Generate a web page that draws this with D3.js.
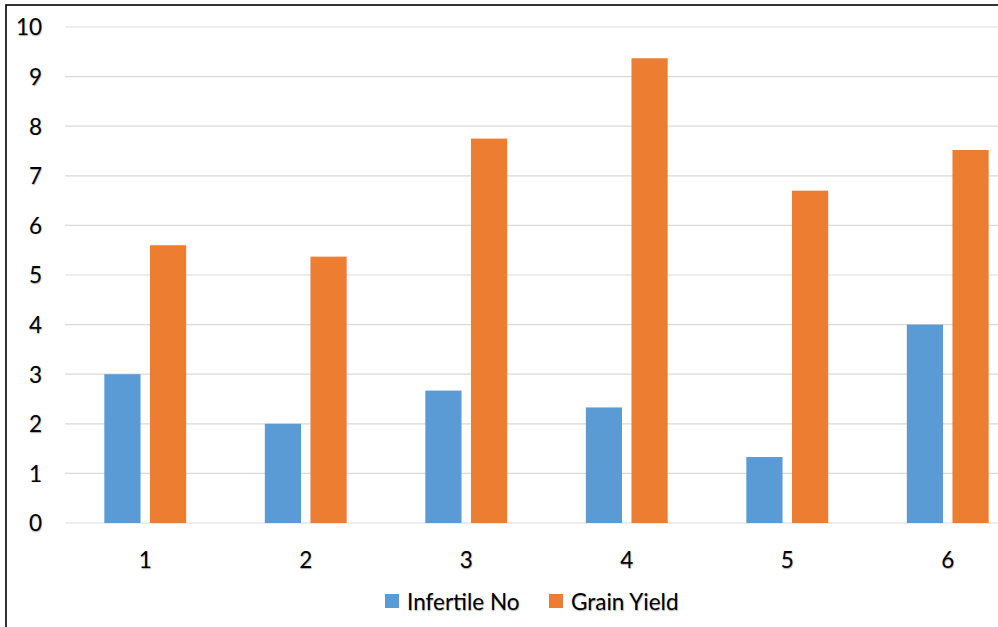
<!DOCTYPE html>
<html>
<head>
<meta charset="utf-8">
<script src="https://cdn.jsdelivr.net/npm/d3@7"></script>
<style>
  html, body { margin: 0; padding: 0; background: #fff; }
  svg { display: block; }
  text {
    font-family: Lato, "Open Sans", "Liberation Sans", sans-serif;
    fill: #000;
    text-shadow: 0.6px 0.6px 1.2px rgba(0, 0, 0, 0.35);
  }
</style>
</head>
<body>
<svg id="chart" width="998" height="627"></svg>
<script>
// Chart data
const categories = ["1", "2", "3", "4", "5", "6"];
const seriesNames = ["Infertile No", "Grain Yield"];
const infertileNo = [3, 2, 2.67, 2.33, 1.33, 4];
const grainYield = [5.6, 5.37, 7.75, 9.37, 6.7, 7.52];
const yTicks = [0, 1, 2, 3, 4, 5, 6, 7, 8, 9, 10];
const colors = ["#5B9BD5", "#ED7D31"];

const rows = categories.map((c, i) => ({ cat: c, values: [infertileNo[i], grainYield[i]] }));

const svg = d3.select("#chart");
const W = 998, H = 627;
const fontSize = "22.5px";

// Outer frame (runs past the right and bottom edges)
svg.append("rect")
  .attr("x", 6).attr("y", 5)
  .attr("width", W + 20).attr("height", H + 20)
  .attr("fill", "#fff").attr("stroke", "#000").attr("stroke-width", 1.6);

const plot = { left: 65, right: 1028, top: 27, bottom: 523 };

const x0 = d3.scaleBand()
  .domain(categories)
  .range([plot.left, plot.right])
  .paddingInner(0.49)
  .paddingOuter(0.245);

const x1 = d3.scaleBand()
  .domain(d3.range(seriesNames.length))
  .range([0, x0.bandwidth()])
  .paddingInner(0.207);

const y = d3.scaleLinear().domain([0, 10]).range([plot.bottom, plot.top]);

// Horizontal gridlines
svg.append("g")
  .selectAll("line")
  .data(yTicks)
  .join("line")
  .attr("x1", plot.left).attr("x2", W)
  .attr("y1", d => y(d)).attr("y2", d => y(d))
  .attr("stroke", "#d9d9d9").attr("stroke-width", 1.2);

// Y axis labels
const yAxis = d3.axisLeft(y).tickValues(yTicks).tickSize(0).tickPadding(0);
const gy = svg.append("g").attr("transform", "translate(42,0)").call(yAxis);
gy.select(".domain").remove();
gy.selectAll("text")
  .style("font-size", fontSize)
  .attr("fill", "#000")
  .attr("dy", "0.35em");

// Bars
const groups = svg.append("g")
  .selectAll("g")
  .data(rows)
  .join("g")
  .attr("transform", d => `translate(${x0(d.cat)},0)`);

groups.selectAll("rect")
  .data(d => d.values.map((v, i) => ({ v, i })))
  .join("rect")
  .attr("x", d => x1(d.i))
  .attr("width", x1.bandwidth())
  .attr("y", d => y(d.v))
  .attr("height", d => y(0) - y(d.v))
  .attr("fill", d => colors[d.i]);

// X axis labels
const xAxis = d3.axisBottom(x0).tickSize(0).tickPadding(0);
const gx = svg.append("g").attr("transform", `translate(0,${plot.bottom + 29})`).call(xAxis);
gx.select(".domain").remove();
gx.selectAll("text")
  .style("font-size", fontSize)
  .attr("fill", "#000")
  .attr("dy", "0.72em");

// Legend
const legendItems = [
  { name: seriesNames[0], color: colors[0], x: 385 },
  { name: seriesNames[1], color: colors[1], x: 549 }
];
const legend = svg.append("g");
legendItems.forEach(it => {
  legend.append("rect")
    .attr("x", it.x).attr("y", 594)
    .attr("width", 14).attr("height", 14)
    .attr("fill", it.color);
  legend.append("text")
    .attr("x", it.x + 22).attr("y", 610)
    .style("font-size", fontSize)
    .text(it.name);
});
</script>
</body>
</html>
